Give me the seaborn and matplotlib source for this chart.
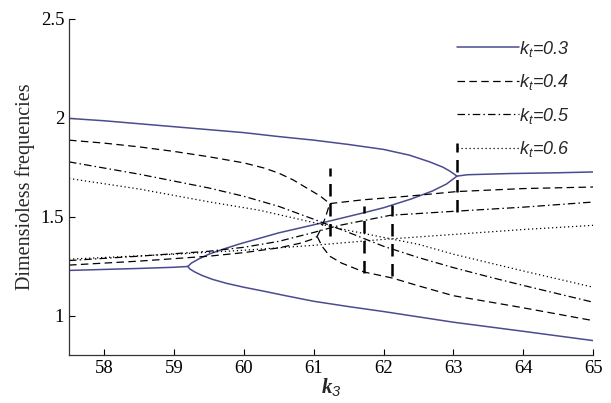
"""
Dimensionless frequencies vs k3 for several kt values (veering / coupling plot).
"""
import numpy as np
import pandas as pd
import matplotlib
matplotlib.use("Agg")
import matplotlib.pyplot as plt
from matplotlib.lines import Line2D
import seaborn as sns

sns.set_theme(style="white")
plt.rcParams["font.family"] = ["Liberation Serif", "DejaVu Serif"]
plt.rcParams["mathtext.fontset"] = "custom"
plt.rcParams["mathtext.it"] = "Liberation Sans:italic"
plt.rcParams["mathtext.rm"] = "Liberation Sans:italic"
plt.rcParams["mathtext.bf"] = "Liberation Serif:bold:italic"

# ---- kt = 0.3 (solid) ----
k03_up_x = [57.5, 58.0, 58.5, 59.0, 59.5, 60.0, 60.5, 61.0, 61.5, 62.0, 62.37, 62.66, 62.85, 62.95, 63.05]
k03_up_y = [1.997, 1.985, 1.97, 1.955, 1.94, 1.925, 1.905, 1.887, 1.865, 1.84, 1.811, 1.777, 1.75, 1.73, 1.705]
k03_right_x = [63.05, 63.2, 63.8, 64.5, 65.0]
k03_right_y = [1.705, 1.712, 1.718, 1.722, 1.726]
k03_low_x = [57.5, 58.0, 58.5, 59.0, 59.2]
k03_low_y = [1.228, 1.233, 1.238, 1.244, 1.248]
k03_rise_x = [59.2, 59.25, 59.35, 59.5, 59.7, 59.94, 60.5, 61.09, 61.72, 62.0, 62.4, 62.7, 62.9, 63.05]
k03_rise_y = [1.248, 1.265, 1.285, 1.31, 1.335, 1.362, 1.418, 1.466, 1.52, 1.545, 1.59, 1.63, 1.665, 1.705]
k03_fall_x = [59.2, 59.23, 59.3, 59.4, 59.55, 59.75, 60.0, 60.3, 60.6, 61.0, 61.5, 62.0, 63.0, 64.0, 65.0]
k03_fall_y = [1.248, 1.235, 1.22, 1.203, 1.183, 1.163, 1.143, 1.122, 1.10, 1.072, 1.045, 1.02, 0.966, 0.92, 0.873]

# ---- kt = 0.4 (dashed) ----
k04_up_x = [57.5, 58.0, 58.5, 59.0, 59.5, 60.0, 60.3, 60.5, 60.7, 60.9, 61.09, 61.23]
k04_up_y = [1.887, 1.872, 1.853, 1.83, 1.803, 1.772, 1.745, 1.72, 1.687, 1.645, 1.605, 1.566]
k04_right_x = [61.23, 61.7, 62.4, 63.05, 64.0, 65.0]
k04_right_y = [1.566, 1.585, 1.605, 1.627, 1.642, 1.65]
k04_low_x = [57.5, 58.5, 59.5, 60.0, 60.5, 60.8, 61.0, 61.05]
k04_low_y = [1.255, 1.275, 1.30, 1.318, 1.342, 1.365, 1.388, 1.40]
k04_hook_x = [61.05, 61.12, 61.18, 61.23]
k04_hook_y = [1.40, 1.45, 1.51, 1.566]
k04_fall_x = [61.05, 61.12, 61.23, 61.4, 61.72, 62.12, 62.5, 63.0, 63.95, 65.0]
k04_fall_y = [1.40, 1.35, 1.30, 1.265, 1.22, 1.19, 1.15, 1.10, 1.042, 0.974]

# ---- kt = 0.5 (dash-dot) ----
k05_fall_x = [57.5, 58.5, 59.5, 60.0, 60.5, 61.0, 61.5, 62.0, 62.5, 63.0, 63.5, 64.0, 65.0]
k05_fall_y = [1.777, 1.715, 1.645, 1.603, 1.552, 1.487, 1.42, 1.35, 1.293, 1.242, 1.196, 1.152, 1.067]
k05_rise_x = [57.5, 58.5, 59.5, 60.0, 60.5, 61.0, 61.37, 62.1, 63.05, 64.0, 65.0]
k05_rise_y = [1.278, 1.30, 1.325, 1.345, 1.375, 1.42, 1.456, 1.507, 1.528, 1.548, 1.574]

# ---- kt = 0.6 (dotted) ----
k06_fall_x = [57.5, 58.5, 59.5, 60.23, 61.0, 61.5, 62.0, 62.5, 63.0, 64.0, 65.0]
k06_fall_y = [1.693, 1.64, 1.575, 1.532, 1.47, 1.43, 1.395, 1.36, 1.31, 1.225, 1.143]
k06_rise_x = [57.5, 59.0, 60.0, 61.0, 62.0, 63.0, 64.0, 65.0]
k06_rise_y = [1.285, 1.31, 1.33, 1.355, 1.385, 1.41, 1.435, 1.456]

# vertical marker lines (x, y_bottom, y_top)
vline_x = [61.23, 61.72, 62.12, 63.05]
vline_lo = [1.40, 1.215, 1.20, 1.525]
vline_hi = [1.745, 1.555, 1.557, 1.87]

kt_labels = ["0.3", "0.4", "0.5", "0.6"]

PURPLE = "#4b4b8f"
styles = {
    "0.3": dict(color=PURPLE, linestyle="-", lw=1.1),
    "0.4": dict(color="black", linestyle=(0, (6, 3.5)), lw=0.9),
    "0.5": dict(color="black", linestyle=(0, (6, 2.5, 1.2, 2.5)), lw=0.9),
    "0.6": dict(color="black", linestyle=(0, (1, 2.2)), lw=0.9),
}

segments = [
    ("0.3", k03_up_x, k03_up_y), ("0.3", k03_right_x, k03_right_y),
    ("0.3", k03_low_x, k03_low_y), ("0.3", k03_rise_x, k03_rise_y),
    ("0.3", k03_fall_x, k03_fall_y),
    ("0.4", k04_up_x, k04_up_y), ("0.4", k04_right_x, k04_right_y),
    ("0.4", k04_low_x, k04_low_y), ("0.4", k04_hook_x, k04_hook_y),
    ("0.4", k04_fall_x, k04_fall_y),
    ("0.5", k05_fall_x, k05_fall_y), ("0.5", k05_rise_x, k05_rise_y),
    ("0.6", k06_fall_x, k06_fall_y), ("0.6", k06_rise_x, k06_rise_y),
]

fig = plt.figure(figsize=(6.11, 4.03), dpi=100)
ax = fig.add_axes([0.113, 0.119, 0.858, 0.834])

for kt, xs, ys in segments:
    seg = pd.DataFrame({"k3": xs, "freq": ys})
    st = styles[kt]
    sns.lineplot(data=seg, x="k3", y="freq", ax=ax, sort=False, color=st["color"],
                 linestyle=st["linestyle"], linewidth=st["lw"], estimator=None)

ax.vlines(vline_x, vline_lo, vline_hi, colors="black", linestyles=(0, (5, 3)), linewidth=1.8)

ax.set_xlim(57.5, 65)
ax.set_ylim(0.8, 2.5)
ax.set_xticks(range(58, 66))
ax.set_yticks([1, 1.5, 2, 2.5])
ax.set_yticklabels(["1", "1.5", "2", "2.5"])
ax.tick_params(direction="in", length=4, width=0.8, labelsize=13.5, colors="black",
               left=True, bottom=True)
for side in ["top", "right"]:
    ax.spines[side].set_visible(False)
for side in ["left", "bottom"]:
    ax.spines[side].set_color("#333333")
    ax.spines[side].set_linewidth(0.9)

ax.set_ylabel("Dimensioless frequencies", fontsize=14.5, labelpad=4)
ax.set_xlabel(r"$\mathbf{k}_{3}$", fontsize=15, labelpad=0)

handles = [Line2D([], [], color=styles[k]["color"], linestyle=styles[k]["linestyle"],
                  linewidth=styles[k]["lw"]) for k in kt_labels]
labels = [r"$k_t$=" + k for k in kt_labels]
leg = ax.legend(handles, labels, loc="upper right", bbox_to_anchor=(0.985, 0.99),
                frameon=False, handlelength=3.4, handletextpad=0.0, labelspacing=0.75,
                prop={"family": "Liberation Sans", "style": "italic", "size": 13})

fig.savefig("out.png", dpi=100)
